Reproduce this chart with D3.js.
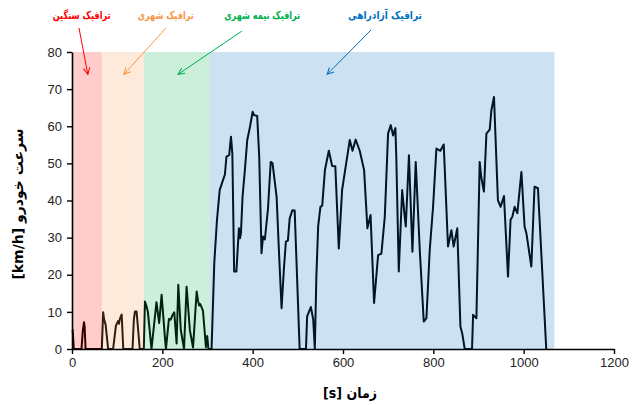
<!DOCTYPE html>
<html><head><meta charset="utf-8">
<script src="https://cdn.jsdelivr.net/npm/d3@7"></script>
<style>body{margin:0;background:#fff}svg{display:block}</style>
</head><body>
<svg id="c" width="641" height="405"></svg>
<script>
// ---- data ----
const xTicks = [0, 200, 400, 600, 800, 1000, 1200];
const yTicks = [0, 10, 20, 30, 40, 50, 60, 70, 80];
const xLabel = "[s] زمان";
const yLabel = "[km/h] سرعت خودرو";
// traffic zones: [start, end]
const zoneNames = ["ترافیک سنگین", "ترافیک شهری", "ترافیک نیمه شهری", "ترافیک آزادراهی"];
const zoneStart = [0, 66, 159, 305];
const zoneEnd = [66, 159, 305, 1068];
const zoneColors = ["#ff0000", "#f79646", "#00b050", "#0070c0"];
// annotation arrow targets (time, speed)
const arrowTarget = [[35, 74], [115, 74], [235, 74], [565, 74]];
const labelTime = [21.5, 207.5, 421, 693];
// speed trace: time [s]
const time = [0,1.5,4,21,24,26.5,28,30,66,69,71,74.5,80,91,95,97.3,100,102,104,106,110,113.5,134,137,139.4,143,150,159,
161.5,165,168,176,187,193,198.4,205.8,208,214.6,218.6,222,226.4,231.6,235.3,241,246,248,253.7,261,268,276,279,281.6,284,287,290,296.5,299.4,302,309,
315,321,327,333,338.5,342,348,352,355,359,364,369.5,372,374,377.6,383,388,394,400,403,410,414.5,419.6,423,427,434,438,440,444,453,458.7,464,469,473.5,478,482,488,493,504,518,520.6,528.8,534,537.6,541,545,550,554,560,568.6,576,583,590.7,598,606,615,621,628,637,646.7,654,661,668.8,677.7,685,692.5,699.8,705.8,711,716,718,723.5,731,736.7,739,746,753.7,761,770,778.8,784.7,792,799.4,806.8,815.7,823,832.5,840,845,853,860,864,869.5,885.7,888,895.4,902.6,906,912,917.5,924.8,928.5,934.3,943,949,956.4,965.3,971,975,980,986,995,1002,1006,1017,1024,1031.6,1050];
// speed [km/h]
const speed = [5.2,5.2,0,0,5,7.2,6,0,0,9.9,8,6.5,0,0,4,6.3,7,7.5,6.8,8.1,9.3,0,0,8,10.1,10.1,0,0,
12.8,11.5,10,0,12.6,7,14.6,3,0,8.1,7.9,9,9.9,1.5,17.3,5,1.5,0,16.8,5,0.4,15.5,13,11.7,12.1,11.2,10.3,0.5,3.5,0,0,
23.1,34.8,42.8,45,47,51.8,52.2,57.2,52.7,20.9,20.9,32.5,29.8,31.2,41,48.6,56.3,59.8,63.9,63,62.8,51.8,25.8,30.3,29.5,37.9,46.4,50.4,50,41,24.9,11,21.3,28.9,29.2,35.2,37.4,37.3,0,0,8.8,11.3,8,0,19.5,33,38.3,38.6,48.2,53.4,49.3,49.2,27.1,42.8,49.2,56.3,53.4,56.4,53.4,48.2,32.5,36.1,12.4,25.3,25.7,35.6,58,60.3,57.5,59.5,51.8,20.9,42.8,35.6,33,52.2,26.2,50.4,26.6,7.4,8.3,26.6,38.3,54,53.4,55.1,27.6,32,27.6,32.5,6,4.2,0,0,9.2,8.3,50.4,46.4,42.4,58,59.1,64.3,67.9,40.1,38.3,41.2,19.5,34.8,35.6,38.3,36.6,47.7,33,31.2,22.2,43.7,43.3,0];

// ---- chart ----
const W = 641, H = 405;
const m = {left: 72, right: 27, top: 52, bottom: 56};
const svg = d3.select("#c");
const x = d3.scaleLinear().domain([0, 1200]).range([m.left, W - m.right]);
const y = d3.scaleLinear().domain([0, 80]).range([H - m.bottom, m.top]);

const pts = time.map((t, i) => [t, speed[i]]);
svg.append("path").datum(pts)
  .attr("fill", "none").attr("stroke", "#000").attr("stroke-width", 2)
  .attr("stroke-linejoin", "round")
  .attr("d", d3.line().x(d => x(d[0])).y(d => y(d[1])));

// zone overlays on top of line
svg.selectAll("rect.zone").data(zoneStart).join("rect").attr("class", "zone")
  .attr("x", (d) => x(d))
  .attr("width", (d, i) => x(zoneEnd[i]) - x(d))
  .attr("y", y(80)).attr("height", y(0) - y(80))
  .attr("fill", (d, i) => zoneColors[i]).attr("fill-opacity", 0.2);

// axes
const fontTick = "'Liberation Sans', Arial, sans-serif";
const gx = svg.append("g").attr("transform", `translate(0,${y(0)})`)
  .call(d3.axisBottom(x).tickValues(xTicks).tickFormat(d3.format("d")).tickSize(5).tickSizeOuter(0).tickPadding(4));
const gy = svg.append("g").attr("transform", `translate(${x(0)},0)`)
  .call(d3.axisLeft(y).tickValues(yTicks).tickFormat(d3.format("d")).tickSize(5).tickSizeOuter(0).tickPadding(5));
[gx, gy].forEach(g => {
  g.select(".domain").attr("stroke", "#000").attr("stroke-width", 1.6);
  g.selectAll(".tick line").attr("stroke", "#000").attr("stroke-width", 1.4);
  g.selectAll(".tick text").attr("font-family", fontTick).attr("font-size", 13).attr("fill", "#222");
});

const faFont = "'DejaVu Sans', 'Noto Sans', sans-serif";
const xt = svg.append("text").attr("x", 350).attr("y", 398).attr("text-anchor", "middle")
  .attr("font-family", faFont).attr("font-weight", "bold")
  .attr("font-size", 14).attr("fill", "#000")
  .attr("textLength", 54).attr("lengthAdjust", "spacingAndGlyphs").text(xLabel);
svg.append("text").attr("transform", "translate(23,204) rotate(-90)").attr("text-anchor", "middle")
  .attr("font-family", faFont).attr("font-weight", "bold")
  .attr("font-size", 14).attr("fill", "#000").text(yLabel);

// annotations
const defs = svg.append("defs");
zoneColors.forEach((c, i) => {
  defs.append("marker").attr("id", "ah" + i).attr("viewBox", "0 0 10 10")
    .attr("refX", 9).attr("refY", 5).attr("markerWidth", 8).attr("markerHeight", 8)
    .attr("orient", "auto").attr("markerUnits", "userSpaceOnUse")
    .append("path").attr("d", "M1,1 L9,5 L1,9").attr("fill", "none").attr("stroke", c).attr("stroke-width", 1.3);
});
const labelY = 19;
const labelWidth = [58, 56, 76, 74];
zoneNames.forEach((n, i) => {
  svg.append("text").attr("x", x(labelTime[i])).attr("y", labelY).attr("text-anchor", "middle")
    .attr("font-family", faFont).attr("font-weight", "bold")
    .attr("font-size", 11).attr("fill", zoneColors[i])
    .attr("textLength", labelWidth[i]).attr("lengthAdjust", "spacingAndGlyphs").text(n);
});
const arrowStartX = [79, 166, 242, 371];
const arrowStartY = [28, 28, 31, 30];
arrowTarget.forEach((a, i) => {
  svg.append("line")
    .attr("x1", arrowStartX[i]).attr("y1", arrowStartY[i])
    .attr("x2", x(a[0])).attr("y2", y(a[1]))
    .attr("stroke", zoneColors[i]).attr("stroke-width", 1)
    .attr("marker-end", `url(#ah${i})`);
});
</script>
</body></html>
